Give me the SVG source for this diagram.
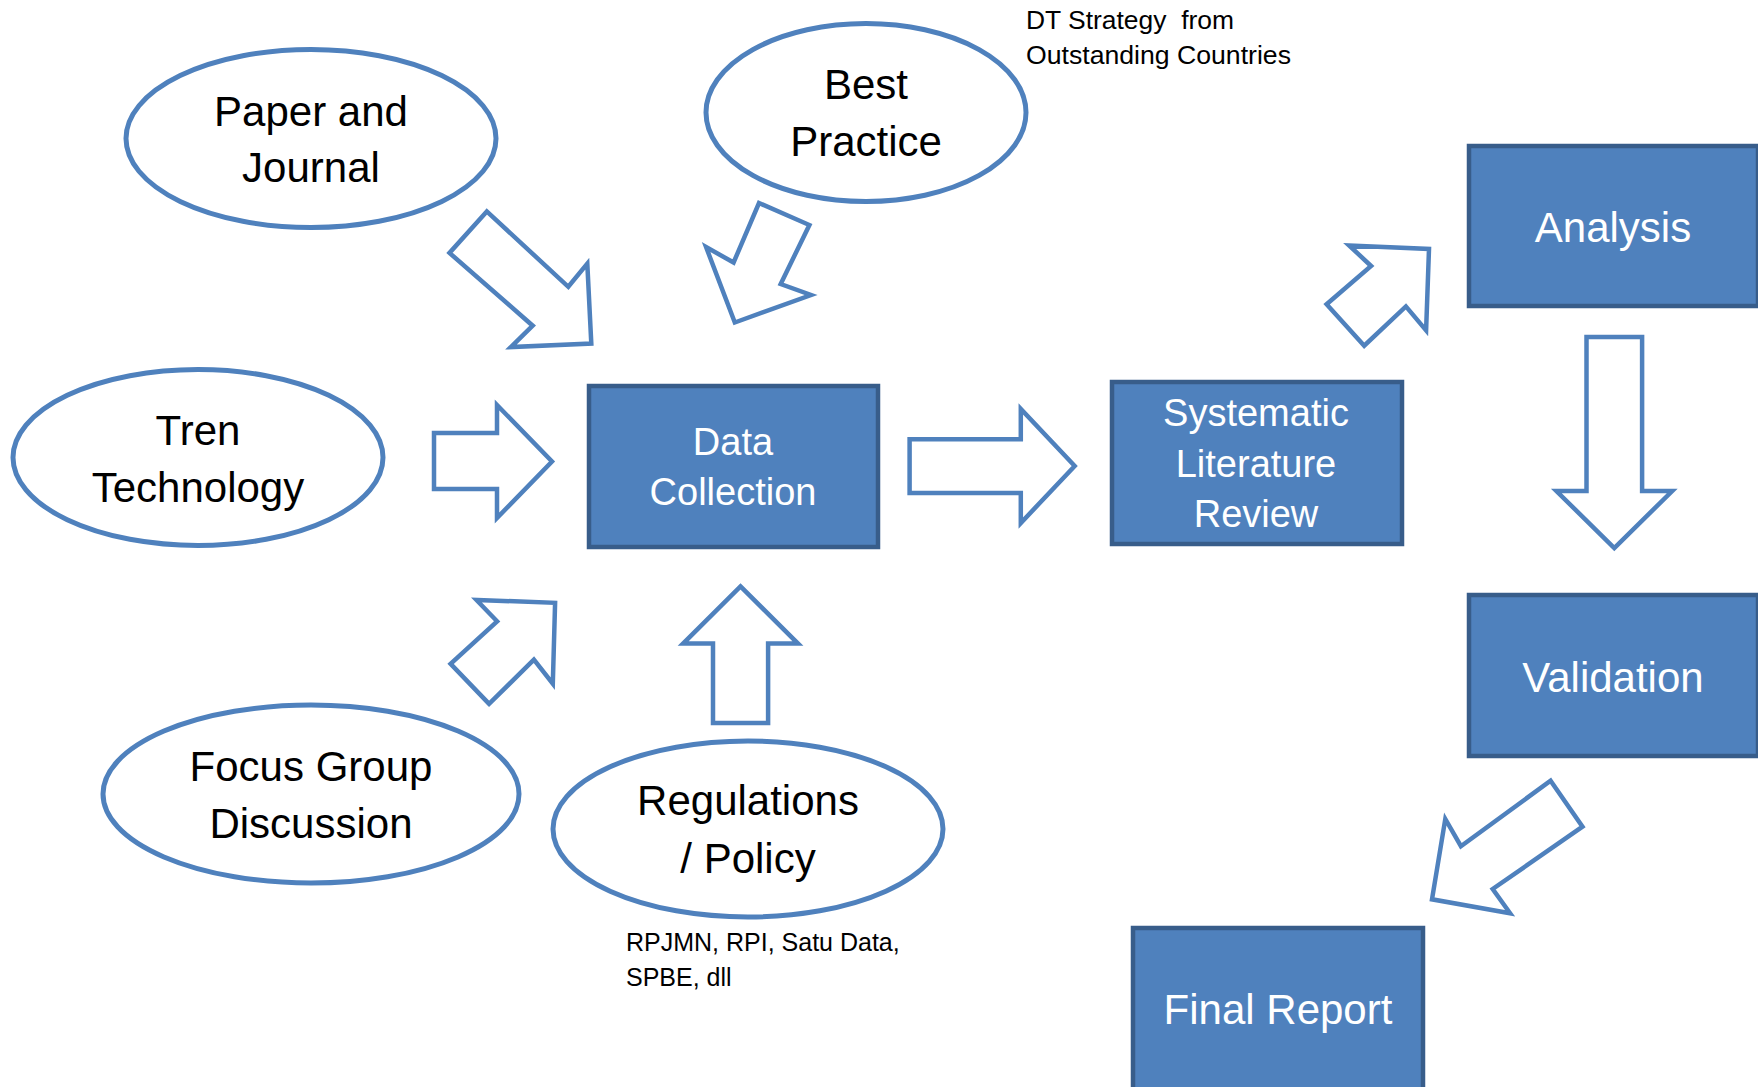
<svg xmlns="http://www.w3.org/2000/svg" width="1758" height="1087" viewBox="0 0 1758 1087">
<style>
.ell{fill:#ffffff;stroke:#4f81bd;stroke-width:5}
.box{fill:#4f81bd;stroke:#385d8a;stroke-width:4.5}
.arr{fill:#ffffff;stroke:#4f81bd;stroke-width:4.5;stroke-linejoin:miter}
.t{font-family:"Liberation Sans",Arial,sans-serif;font-size:42px;fill:#000000;text-anchor:middle}
.w{font-family:"Liberation Sans",Arial,sans-serif;font-size:42px;fill:#ffffff;text-anchor:middle}
.s{font-family:"Liberation Sans",Arial,sans-serif;font-size:25px;fill:#000000}
</style>
<rect width="1758" height="1087" fill="#ffffff"/>
<g id="connectors">
<polygon class="arr" points="486.8,211.4 449.5,252.9 532.7,325.7 510.9,347.1 591.3,343.6 587.3,263.6 568.3,286.8"/>
<polygon class="arr" points="759,203 809.4,225 780.7,284 811,295 734.8,322.5 706.1,247.1 733.6,262.5"/>
<polygon class="arr" points="434,433 497,433 497,405 552,461.5 497,518 497,489 434,489"/>
<polygon class="arr" points="909.6,439.3 1020.8,439.3 1020.8,409 1074.7,466 1020.8,523 1020.8,492.9 909.6,492.9"/>
<polygon class="arr" points="1364.2,345.7 1326.6,304.3 1371.1,266 1349.1,245.4 1429,249 1426.1,330.4 1405.9,306.4"/>
<polygon class="arr" points="1586.5,337 1642.1,337 1642.1,491 1672.2,491 1614.3,548 1556.4,491 1586.5,491"/>
<polygon class="arr" points="1550.6,780.7 1582.5,826.7 1492.7,889 1510.1,913.2 1432,899.3 1445.3,819 1460.9,846.2"/>
<polygon class="arr" points="489.1,703.9 450.6,663.8 497.1,621.3 476.5,600 555.1,602.8 552.8,683.7 533.9,659.6"/>
<polygon class="arr" points="740.5,586.4 798,643.6 768.1,643.6 768.1,723.1 713,723.1 713,643.6 683.1,643.6"/>
</g>
<g id="paper-journal">
<ellipse class="ell" cx="311" cy="138.5" rx="185" ry="89"/>
<text class="t" x="311" y="126">Paper and</text>
<text class="t" x="311" y="182">Journal</text>
</g>
<g id="best-practice">
<ellipse class="ell" cx="866" cy="112.5" rx="160" ry="89"/>
<text class="t" x="866" y="99">Best</text>
<text class="t" x="866" y="156">Practice</text>
</g>
<g id="dt-strategy-note">
<text class="s" x="1026" y="29" xml:space="preserve" textLength="208" lengthAdjust="spacingAndGlyphs">DT Strategy  from</text>
<text class="s" x="1026" y="64" textLength="265" lengthAdjust="spacingAndGlyphs">Outstanding Countries</text>
</g>
<g id="tren-technology">
<ellipse class="ell" cx="198" cy="457.5" rx="185" ry="88"/>
<text class="t" x="198" y="445">Tren</text>
<text class="t" x="198" y="502">Technology</text>
</g>
<g id="data-collection">
<rect class="box" x="589" y="386" width="289" height="161"/>
<text class="w" x="733" y="455" style="font-size:38px">Data</text>
<text class="w" x="733" y="505" style="font-size:38px">Collection</text>
</g>
<g id="systematic-literature-review">
<rect class="box" x="1112" y="382" width="290" height="162"/>
<text class="w" x="1256" y="426" style="font-size:38px">Systematic</text>
<text class="w" x="1256" y="477" style="font-size:38px">Literature</text>
<text class="w" x="1256" y="527" style="font-size:38px">Review</text>
</g>
<g id="analysis">
<rect class="box" x="1469" y="146" width="289" height="160"/>
<text class="w" x="1613" y="242">Analysis</text>
</g>
<g id="validation">
<rect class="box" x="1469" y="595" width="289" height="161"/>
<text class="w" x="1613" y="692">Validation</text>
</g>
<g id="final-report">
<rect class="box" x="1133" y="928" width="290" height="162"/>
<text class="w" x="1278" y="1024">Final Report</text>
</g>
<g id="focus-group-discussion">
<ellipse class="ell" cx="311" cy="794" rx="208" ry="89"/>
<text class="t" x="311" y="781">Focus Group</text>
<text class="t" x="311" y="838">Discussion</text>
</g>
<g id="regulations-policy">
<ellipse class="ell" cx="748" cy="829" rx="195" ry="88"/>
<text class="t" x="748" y="815">Regulations</text>
<text class="t" x="748" y="873">/ Policy</text>
</g>
<g id="regulations-note">
<text class="s" x="626" y="951">RPJMN, RPI, Satu Data,</text>
<text class="s" x="626" y="986">SPBE, dll</text>
</g>
</svg>
